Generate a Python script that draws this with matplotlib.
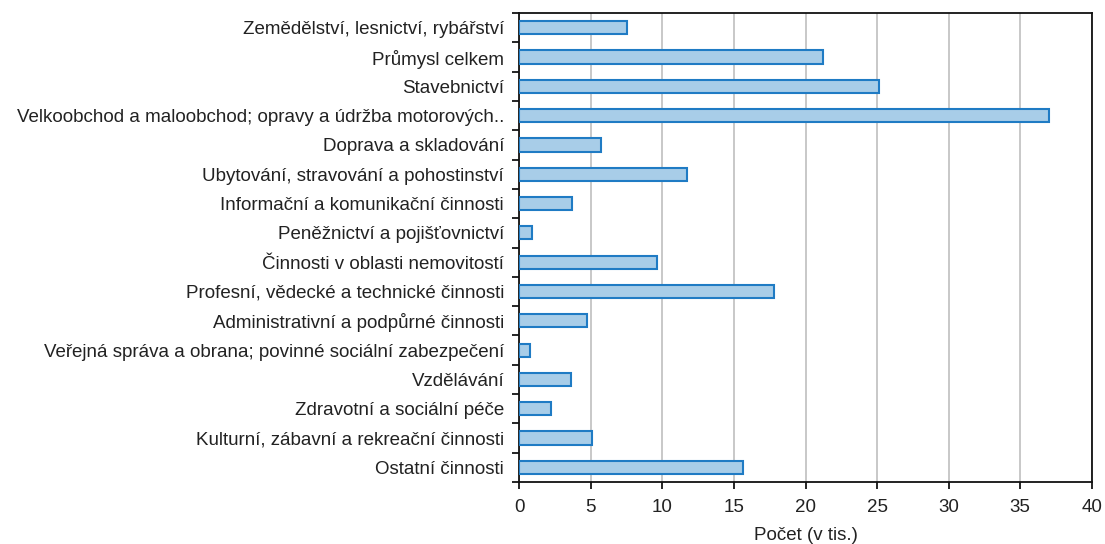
import matplotlib.pyplot as plt
import numpy as np

plt.rcParams['font.family'] = ['Liberation Sans', 'DejaVu Sans']

categories = [
    'Zemědělství, lesnictví, rybářství',
    'Průmysl celkem',
    'Stavebnictví',
    'Velkoobchod a maloobchod; opravy a údržba motorových..',
    'Doprava a skladování',
    'Ubytování, stravování a pohostinství',
    'Informační a komunikační činnosti',
    'Peněžnictví a pojišťovnictví',
    'Činnosti v oblasti nemovitostí',
    'Profesní, vědecké a technické činnosti',
    'Administrativní a podpůrné činnosti',
    'Veřejná správa a obrana; povinné sociální zabezpečení',
    'Vzdělávání',
    'Zdravotní a sociální péče',
    'Kulturní, zábavní a rekreační činnosti',
    'Ostatní činnosti',
]
values = [7.5, 21.2, 25.1, 37.0, 5.7, 11.7, 3.7, 0.9, 9.6, 17.8, 4.7, 0.75, 3.6, 2.2, 5.05, 15.6]
xticks = [0, 5, 10, 15, 20, 25, 30, 35, 40]

fig = plt.figure(figsize=(11.05, 5.44), dpi=100)
ax = fig.add_axes([0.47, 0.114, 0.518, 0.862])

y = np.arange(len(categories))
ax.barh(y, values, height=0.45, color='#a8cde8', edgecolor='#1f7bc4', linewidth=1.5, zorder=3)

ax.set_xlim(0, 40)
ax.set_ylim(len(categories) - 0.5, -0.5)
ax.set_xticks(xticks)
ax.set_yticks(y)
ax.set_yticklabels(categories, fontsize=13.5, color='#222222')
ax.set_yticks(np.arange(-0.5, len(categories), 1), minor=True)
ax.tick_params(axis='y', which='major', length=0, pad=11)
ax.tick_params(axis='y', which='minor', length=5, width=1.2, direction='out')
ax.tick_params(axis='x', length=5, width=1.2, labelsize=13.5, labelcolor='#222222', pad=7)
ax.xaxis.grid(True, color='#c4c4c4', linewidth=1.3, zorder=0)
for s in ax.spines.values():
    s.set_linewidth(1.3)
    s.set_color('#111111')
ax.set_xlabel('Počet (v tis.)', fontsize=13.5, color='#222222', labelpad=8)

plt.savefig('out.png', dpi=100)
